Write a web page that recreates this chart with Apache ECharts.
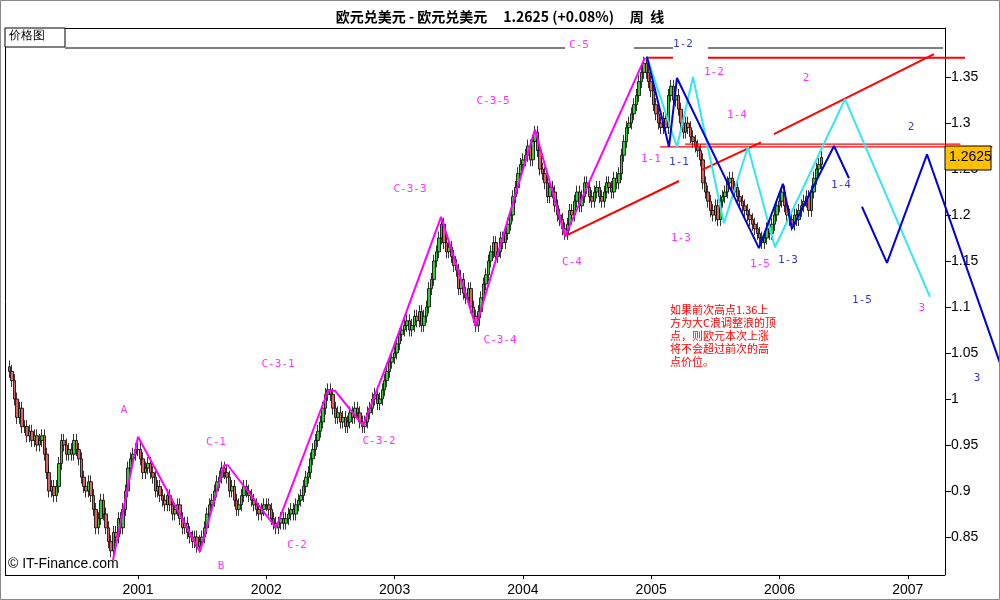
<!DOCTYPE html>
<html><head><meta charset="utf-8">
<script src="https://cdn.jsdelivr.net/npm/echarts@6/dist/echarts.min.js"></script>
<style>html,body{margin:0;padding:0;background:#fff}#c{width:1000px;height:600px}</style>
</head><body><div id="c"></div>
<script>
// weekly closes per year
const close2000=[1.03,1.02,1.00,0.98,0.99,0.97,0.97,0.96,0.965,0.955,0.96,0.95,0.955,0.96,0.94,0.92,0.90,0.905,0.895,0.905,0.93,0.955,0.95,0.94,0.945,0.94,0.955,0.945,0.935,0.915,0.905,0.90,0.91,0.895,0.88,0.86,0.87,0.89,0.875,0.86,0.845,0.835,0.855,0.85,0.87,0.86,0.88,0.90,0.925,0.935,0.94,0.945];
const close2001=[0.945,0.935,0.92,0.925,0.93,0.92,0.915,0.90,0.905,0.895,0.89,0.885,0.895,0.885,0.875,0.88,0.885,0.87,0.86,0.865,0.855,0.85,0.845,0.85,0.84,0.845,0.85,0.86,0.875,0.885,0.89,0.90,0.91,0.915,0.925,0.92,0.915,0.90,0.905,0.89,0.88,0.885,0.895,0.905,0.90,0.895,0.89,0.885,0.88,0.875,0.88,0.885];
const close2002=[0.885,0.88,0.87,0.865,0.86,0.865,0.87,0.865,0.87,0.875,0.88,0.875,0.885,0.89,0.895,0.905,0.915,0.92,0.935,0.945,0.955,0.965,0.975,0.99,1.005,1.01,1.005,0.99,0.98,0.985,0.975,0.98,0.97,0.975,0.985,0.98,0.99,0.985,0.975,0.97,0.975,0.985,0.99,1.0,1.005,0.995,1.0,1.01,1.02,1.03,1.04,1.045];
const close2003=[1.05,1.06,1.07,1.075,1.08,1.085,1.075,1.08,1.09,1.085,1.095,1.08,1.09,1.10,1.12,1.13,1.15,1.16,1.175,1.19,1.17,1.16,1.165,1.155,1.145,1.14,1.12,1.13,1.115,1.11,1.12,1.10,1.09,1.08,1.095,1.11,1.125,1.135,1.15,1.16,1.17,1.155,1.16,1.175,1.17,1.18,1.19,1.20,1.22,1.23,1.245,1.255];
const close2004=[1.26,1.265,1.275,1.26,1.28,1.29,1.27,1.25,1.245,1.235,1.22,1.23,1.225,1.21,1.20,1.195,1.185,1.18,1.19,1.205,1.20,1.215,1.225,1.21,1.22,1.235,1.23,1.22,1.215,1.225,1.23,1.22,1.215,1.225,1.235,1.23,1.225,1.24,1.235,1.245,1.265,1.28,1.295,1.30,1.31,1.32,1.33,1.345,1.355,1.365,1.355,1.345];
const close2005=[1.335,1.32,1.31,1.30,1.295,1.305,1.295,1.33,1.34,1.325,1.33,1.315,1.30,1.29,1.30,1.295,1.285,1.28,1.275,1.27,1.26,1.235,1.225,1.215,1.205,1.20,1.21,1.195,1.215,1.22,1.225,1.235,1.24,1.225,1.23,1.22,1.215,1.21,1.205,1.20,1.195,1.19,1.185,1.18,1.175,1.17,1.175,1.185,1.18,1.19,1.20,1.21];
const close2006=[1.215,1.225,1.21,1.20,1.195,1.19,1.20,1.195,1.205,1.21,1.215,1.22,1.205,1.225,1.24,1.25,1.255,1.2625];
const yearCloses=[[2000,close2000],[2001,close2001],[2002,close2002],[2003,close2003],[2004,close2004],[2005,close2005],[2006,close2006]];

// wave annotation paths [year, price]
const magentaWave=[[2000.805,0.825],[2001.0,0.959],[2001.483,0.834],[2001.67,0.928],[2001.70,0.928],[2002.076,0.860],[2002.481,1.009],[2002.535,1.009],[2002.754,0.971],[2002.988,1.055],[2003.362,1.198],[2003.634,1.079],[2004.094,1.293],[2004.328,1.177],[2004.952,1.371]];
const cyanWave=[[2004.967,1.372],[2005.201,1.274],[2005.326,1.35],[2005.567,1.191],[2005.754,1.274],[2005.965,1.165],[2006.511,1.326],[2007.173,1.111]];
const blueWave1=[[2004.967,1.372],[2005.139,1.274],[2005.201,1.349],[2005.84,1.164],[2006.027,1.234],[2006.097,1.185],[2006.425,1.275],[2006.542,1.24]];
const blueWave2=[[2006.643,1.209],[2006.838,1.148],[2007.15,1.266],[2007.719,1.039]];
const redTop1=[[2004.967,1.371],[2005.17,1.371]];
const redTop2=[[2005.443,1.371],[2007.446,1.371]];
const redH1=[[2005.263,1.277],[2007.41,1.277]];
const redH2=[[2005.07,1.274],[2007.66,1.274]];
const redT1=[[2004.328,1.177],[2005.217,1.237]];
const redT2=[[2005.396,1.249],[2005.856,1.279]];
const redT3=[[2005.957,1.288],[2007.204,1.375]];
const magentaLabels=[[2000.891,0.988,'A'],[2001.647,0.818,'B'],[2001.608,0.953,'C-1'],[2002.239,0.841,'C-2'],[2002.091,1.038,'C-3-1'],[2002.878,0.954,'C-3-2'],[2003.12,1.228,'C-3-3'],[2003.822,1.064,'C-3-4'],[2003.767,1.324,'C-3-5'],[2004.383,1.149,'C-4'],[2004.437,1.385,'C-5'],[2004.998,1.261,'1-1'],[2005.489,1.355,'1-2'],[2005.232,1.175,'1-3'],[2005.669,1.309,'1-4'],[2005.848,1.147,'1-5'],[2006.207,1.349,'2'],[2007.11,1.099,'3']];
const blueLabels=[[2005.248,1.386,'1-2'],[2005.217,1.257,'1-1'],[2006.066,1.151,'1-3'],[2006.48,1.233,'1-4'],[2006.643,1.108,'1-5'],[2007.025,1.295,'2'],[2007.54,1.023,'3']];
const yTicks=[0.85,0.9,0.95,1,1.05,1.1,1.15,1.2,1.25,1.3,1.35];
const xTicks=[2001,2002,2003,2004,2005,2006,2007];
const noteLines=['如果前次高点1.36上','方为大C浪调整浪的顶','点，则欧元本次上涨','将不会超过前次的高','点价位。'];
const lastPrice='1.2625';
const titleText='欧元兑美元 - 欧元兑美元     1.2625 (+0.08%)     周  线';

const candles=[];let prev=null;
yearCloses.forEach(([y,arr])=>arr.forEach((c,i)=>{
  const o=prev===null?c+0.005:prev;
  const hi=Math.max(o,c)+0.007, lo=Math.min(o,c)-0.007;
  candles.push([y+i/52,o,c,lo,hi]);prev=c;
}));

const chart=echarts.init(document.getElementById('c'));
const lineS=(d,color,w,z)=>({type:'line',data:d,symbol:'none',z:z||3,lineStyle:{color:color,width:w},animation:false,silent:true});
const labS=(d,color)=>({type:'scatter',symbolSize:0,z:6,data:d.map(p=>[p[0],p[1],p[2]]),
  label:{show:true,position:'inside',formatter:p=>p.data[2],color:color,fontSize:11,fontFamily:'DejaVu Sans Mono',backgroundColor:'#fff'}});
chart.setOption({
  animation:false,backgroundColor:'#fff',
  title:{text:titleText,left:'center',top:5,textStyle:{fontSize:14,fontWeight:'bold',color:'#000',fontFamily:'Noto Sans CJK SC'}},
  grid:{left:5,right:0,top:28,bottom:25,show:false},
  xAxis:{type:'value',min:1999.963,max:2007.719,splitLine:{show:false},
    axisLine:{show:false},axisTick:{customValues:xTicks,lineStyle:{color:'#000'},length:4},
    axisLabel:{customValues:xTicks,formatter:v=>String(Math.round(v)),color:'#000',fontSize:14,fontFamily:'Liberation Sans'}},
  yAxis:{type:'value',position:'right',offset:-55,min:0.8087,max:1.4033,scale:true,splitLine:{show:false},
    axisLine:{show:true,lineStyle:{color:'#000'}},axisTick:{show:true,customValues:yTicks,length:6,lineStyle:{color:'#000'}},
    axisLabel:{customValues:yTicks,formatter:v=>String(+v.toFixed(2)),color:'#000',fontSize:14,fontFamily:'Liberation Sans',margin:6}},
  series:[
    {type:'candlestick',data:candles,encode:{x:0,y:[1,2,3,4]},barWidth:3,z:2,
      itemStyle:{color:'#33cc33',color0:'#e06060',borderColor:'#000',borderColor0:'#000',borderWidth:0.8}},
    lineS(magentaWave,'#ff00ff',2,4),
    lineS(cyanWave,'#33e6f0',2,4),
    lineS(blueWave1,'#0000dd',2,4),
    lineS(blueWave2,'#0000dd',2,4),
    lineS(redTop1,'#ff0000',2),lineS(redTop2,'#ff0000',2),
    lineS(redH1,'#ff0000',1.2),lineS(redH2,'#ff0000',1.2),
    lineS(redT1,'#ff0000',2),lineS(redT2,'#ff0000',2),lineS(redT3,'#ff0000',2),
    labS(magentaLabels,'#ff00ff'),labS(blueLabels,'#0000cc')
  ],
  graphic:[
    {type:'line',shape:{x1:5.5,y1:28,x2:5.5,y2:575},style:{stroke:'#000',lineWidth:1},z:10},
    {type:'line',shape:{x1:5,y1:575.5,x2:945,y2:575.5},style:{stroke:'#000',lineWidth:1},z:10},
    {type:'line',shape:{x1:5,y1:28.5,x2:945,y2:28.5},style:{stroke:'#000',lineWidth:1},z:10},
    {type:'rect',shape:{x:5,y:28,width:60,height:19},style:{fill:'#fff',stroke:'#000',lineWidth:1},z:10},
    {type:'text',left:9,top:30,style:{text:'价格图',fontSize:12,fill:'#000',font:'12px "Noto Sans CJK SC"'},z:11},
    {type:'line',shape:{x1:65,y1:48,x2:565,y2:48},style:{stroke:'#000',lineWidth:1},z:10},
    {type:'line',shape:{x1:634,y1:48,x2:673,y2:48},style:{stroke:'#000',lineWidth:1},z:10},
    {type:'line',shape:{x1:708,y1:48,x2:943,y2:48},style:{stroke:'#000',lineWidth:1},z:10},
    {type:'rect',shape:{x:945,y:146,width:46,height:24},style:{fill:'#ffc000',stroke:'#000',lineWidth:1},z:10},
    {type:'text',x:949,y:150,style:{text:lastPrice,font:'14px "Liberation Sans"',fill:'#000'},z:11},
    {type:'text',x:670,y:303,style:{text:noteLines.join('\n'),font:'11px "Noto Sans CJK SC"',lineHeight:13,fill:'#ff0000'},z:11},
    {type:'text',x:8,y:557,style:{text:'© IT-Finance.com',font:'14px "Liberation Sans"',fill:'#000'},z:11},
    {type:'rect',shape:{x:0.5,y:0.5,width:999,height:599},style:{fill:'none',stroke:'#888',lineWidth:1},z:12}
  ]
});
</script></body></html>
